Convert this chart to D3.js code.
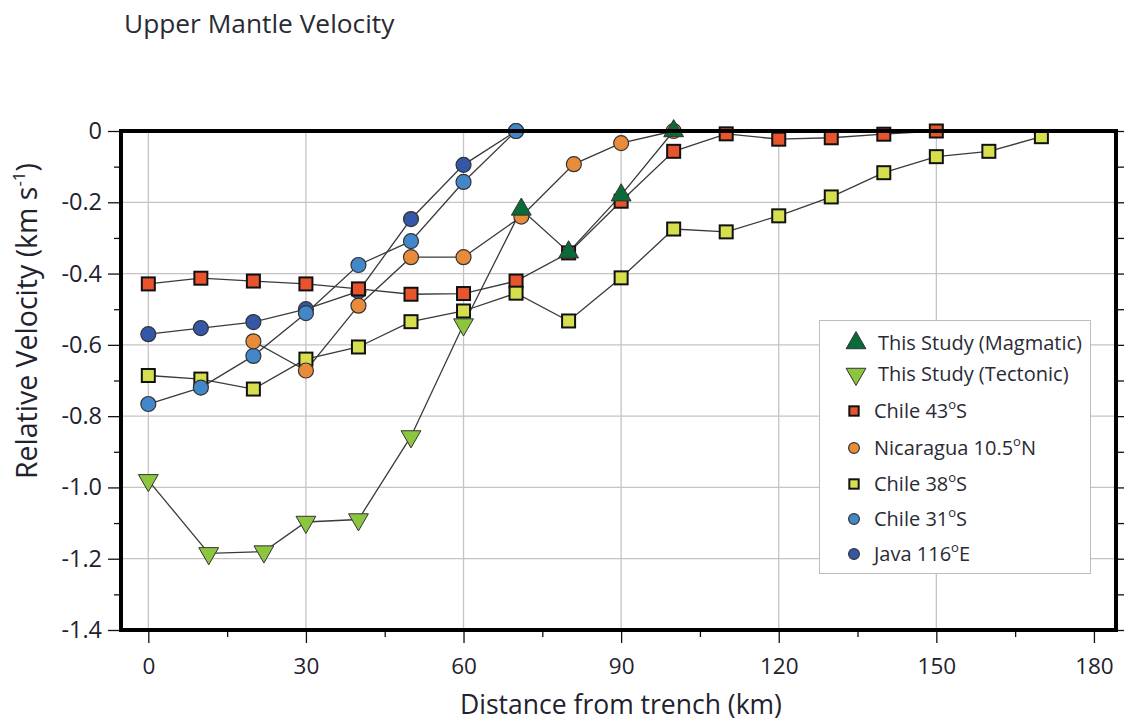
<!DOCTYPE html>
<html>
<head>
<meta charset="utf-8">
<script src="https://cdn.jsdelivr.net/npm/d3@7"></script>
<style>
  body { margin: 0; background: #fff; }
  svg { font-family: "Open Sans", "Noto Sans", sans-serif; }
</style>
</head>
<body>
<svg id="chart" width="1124" height="722"></svg>
<script>
// values (distance km, relative velocity km/s)
const magmaticX = [71, 80, 90, 100];
const magmaticV = [-0.22, -0.34, -0.18, 0.0];

const tectonicX = [0, 11.5, 22, 30, 40, 50, 60];
const tectonicV = [-0.98, -1.185, -1.18, -1.097, -1.09, -0.857, -0.543];

const chile43X = [0, 10, 20, 30, 40, 50, 60, 70, 80, 90, 100, 110, 120, 130, 140, 150];
const chile43V = [-0.429, -0.413, -0.421, -0.429, -0.443, -0.458, -0.456, -0.421, -0.342, -0.197, -0.057, -0.008, -0.023, -0.019, -0.009, 0.0];

const nicaraguaX = [20, 30, 40, 50, 60, 71, 81, 90, 100];
const nicaraguaV = [-0.59, -0.672, -0.49, -0.354, -0.354, -0.24, -0.093, -0.034, 0.0];

const chile38X = [0, 10, 20, 30, 40, 50, 60, 70, 80, 90, 100, 110, 120, 130, 140, 150, 160, 170];
const chile38V = [-0.686, -0.696, -0.724, -0.64, -0.606, -0.535, -0.505, -0.455, -0.533, -0.412, -0.275, -0.283, -0.238, -0.185, -0.117, -0.072, -0.057, -0.016];

const chile31X = [0, 10, 20, 30, 40, 50, 60, 70];
const chile31V = [-0.766, -0.72, -0.631, -0.511, -0.376, -0.309, -0.143, 0.0];

const javaX = [0, 10, 20, 30, 40, 50, 60, 70];
const javaV = [-0.57, -0.553, -0.536, -0.5, -0.45, -0.247, -0.095, 0.0];

const xTicks = [0, 30, 60, 90, 120, 150, 180];
const yTicks = [0, -0.2, -0.4, -0.6, -0.8, -1.0, -1.2, -1.4];

const zip = (xs, vs) => xs.map((d, i) => ({ x: d, v: vs[i] }));

// drawing order = stacking order of markers
const series = [
  { key: 'java', name: ['Java 116', 'E'], shape: 'circle', color: '#3457a7', data: zip(javaX, javaV) },
  { key: 'chile43', name: ['Chile 43', 'S'], shape: 'square', color: '#e8542c', data: zip(chile43X, chile43V) },
  { key: 'chile38', name: ['Chile 38', 'S'], shape: 'square', color: '#d6e04f', data: zip(chile38X, chile38V) },
  { key: 'chile31', name: ['Chile 31', 'S'], shape: 'circle', color: '#4387cb', data: zip(chile31X, chile31V) },
  { key: 'nicaragua', name: ['Nicaragua 10.5', 'N'], shape: 'circle', color: '#e88b3b', data: zip(nicaraguaX, nicaraguaV) },
  { key: 'tectonic', name: ['This Study (Tectonic)'], shape: 'down', color: '#8cc63f', data: zip(tectonicX, tectonicV) },
  { key: 'magmatic', name: ['This Study (Magmatic)'], shape: 'up', color: '#0a6a38', data: zip(magmaticX, magmaticV) }
];
const legendOrder = ['magmatic', 'tectonic', 'chile43', 'nicaragua', 'chile38', 'chile31', 'java'];

const plotL = 121, plotR = 1116, plotT = 131, plotB = 630;

const x = d3.scaleLinear().domain([-5.2, 184.2]).range([plotL, plotR]);
const y = d3.scaleLinear().domain([0, -1.4]).range([plotT, plotB]);

const svg = d3.select('#chart');

// title
svg.append('text')
  .attr('x', 124).attr('y', 33)
  .attr('font-size', 26.3).attr('fill', '#2a2a35')
  .text('Upper Mantle Velocity');

// grid
const grid = svg.append('g');
grid.selectAll('.vg')
  .data(xTicks.filter(d => d < 180))
  .enter().append('line')
  .attr('x1', d => x(d)).attr('x2', d => x(d))
  .attr('y1', plotT).attr('y2', plotB)
  .attr('stroke', '#c4c4c4').attr('stroke-width', 1.3);
grid.selectAll('.hg')
  .data(yTicks.filter(d => d < 0 && d > -1.4))
  .enter().append('line')
  .attr('x1', plotL).attr('x2', plotR)
  .attr('y1', d => y(d)).attr('y2', d => y(d))
  .attr('stroke', '#c4c4c4').attr('stroke-width', 1.3);

// axes
const minorY = d3.range(0, 15).map(i => -i / 10).filter(d => !yTicks.some(t => Math.abs(t - d) < 1e-6));
const minorX = [15, 45, 75, 105, 135, 165];

function styleAxis(g) {
  g.select('.domain').remove();
  g.selectAll('.tick line').attr('stroke', '#111').attr('stroke-width', 1.3);
  g.selectAll('.tick text').attr('fill', '#22222e');
}

svg.append('g')
  .attr('transform', `translate(${plotL},0)`)
  .call(d3.axisLeft(y).tickValues(yTicks).tickSize(13).tickPadding(6)
    .tickFormat(d => d === 0 ? '0' : d3.format('.1f')(d).replace('−', '-')))
  .call(styleAxis)
  .call(g => g.selectAll('.tick text').attr('font-size', 23.5).attr('font-family', '"Open Sans", sans-serif'));

svg.append('g')
  .attr('transform', `translate(${plotL},0)`)
  .call(d3.axisLeft(y).tickValues(minorY).tickSize(7).tickFormat(''))
  .call(styleAxis);

svg.append('g')
  .attr('transform', `translate(${plotR},0)`)
  .call(d3.axisRight(y).tickValues(d3.range(0, 15).map(i => -i / 10)).tickSize(8).tickFormat(''))
  .call(styleAxis);

svg.append('g')
  .attr('transform', `translate(0,${plotB})`)
  .call(d3.axisBottom(x).tickValues(xTicks).tickSize(13).tickPadding(15))
  .call(styleAxis)
  .call(g => g.selectAll('.tick text').attr('font-size', 22.5).attr('font-family', '"Open Sans", sans-serif'));

svg.append('g')
  .attr('transform', `translate(0,${plotB})`)
  .call(d3.axisBottom(x).tickValues(minorX).tickSize(7).tickFormat(''))
  .call(styleAxis);

// axis titles
svg.append('text')
  .attr('x', 621).attr('y', 714)
  .attr('text-anchor', 'middle')
  .attr('font-size', 26.5).attr('fill', '#22222e')
  .text('Distance from trench (km)');

const yt = svg.append('text')
  .attr('transform', 'translate(37,321) rotate(-90)')
  .attr('text-anchor', 'middle')
  .attr('font-size', 28.5).attr('fill', '#22222e');
yt.append('tspan').text('Relative Velocity (km s');
yt.append('tspan').attr('font-size', 17).attr('dy', -12).text('-1');
yt.append('tspan').attr('dy', 12).text(')');

// lines
const line = d3.line().x(d => x(d.x)).y(d => y(d.v));
const byKey = {};
series.forEach(s => { byKey[s.key] = s; });

const lines = svg.append('g');
series.forEach(s => {
  let pts = s.data;
  // the tectonic profile joins the first magmatic point
  if (s.key === 'tectonic') pts = pts.concat([byKey.magmatic.data[0]]);
  lines.append('path')
    .attr('d', line(pts))
    .attr('fill', 'none')
    .attr('stroke', '#3a3a3a')
    .attr('stroke-width', 1.3);
});

// markers
function drawMarker(g, shape, color, scale) {
  const k = scale || 1;
  if (shape === 'square') {
    g.append('rect')
      .attr('x', -6.5 * k).attr('y', -6.5 * k)
      .attr('width', 13 * k).attr('height', 13 * k)
      .attr('fill', color).attr('stroke', '#111').attr('stroke-width', 2);
  } else if (shape === 'circle') {
    g.append('circle')
      .attr('r', 7.5 * k)
      .attr('fill', color).attr('stroke', '#333').attr('stroke-width', 1.2);
  } else {
    g.append('path')
      .attr('d', d3.symbol(d3.symbolTriangle, 170 * k * k)())
      .attr('transform', shape === 'down' ? 'rotate(180)' : null)
      .attr('fill', color).attr('stroke', '#333').attr('stroke-width', 1);
  }
}

const marks = svg.append('g');
series.forEach(s => {
  s.data.forEach(d => {
    const g = marks.append('g').attr('transform', `translate(${x(d.x)},${y(d.v)})`);
    drawMarker(g, s.shape, s.color);
  });
});

// frame
svg.append('rect')
  .attr('x', plotL).attr('y', plotT)
  .attr('width', plotR - plotL).attr('height', plotB - plotT)
  .attr('fill', 'none').attr('stroke', '#000').attr('stroke-width', 4);

// legend
const legend = svg.append('g');
legend.append('rect')
  .attr('x', 819.5).attr('y', 320.5)
  .attr('width', 271).attr('height', 253)
  .attr('fill', '#fff').attr('stroke', '#bdbdbd').attr('stroke-width', 1);

const rowY = [343, 374, 411, 448, 484, 519, 554];
legendOrder.forEach((key, i) => {
  const s = byKey[key];
  const tri = s.shape === 'up' || s.shape === 'down';
  const mx = tri ? 856 : 854;
  const g = legend.append('g').attr('transform', `translate(${mx},${rowY[i]})`);
  drawMarker(g, s.shape, s.color, tri ? 1 : 0.72);
  const t = legend.append('text')
    .attr('x', tri ? 878 : 874).attr('y', rowY[i] + 7)
    .attr('font-size', 20).attr('fill', '#2a2a35');
  t.append('tspan').text(s.name[0]);
  if (s.name.length > 1) {
    t.append('tspan').attr('font-size', 13).attr('dy', -9).text('o');
    t.append('tspan').attr('dy', 9).text(s.name[1]);
  }
});
</script>
</body>
</html>
